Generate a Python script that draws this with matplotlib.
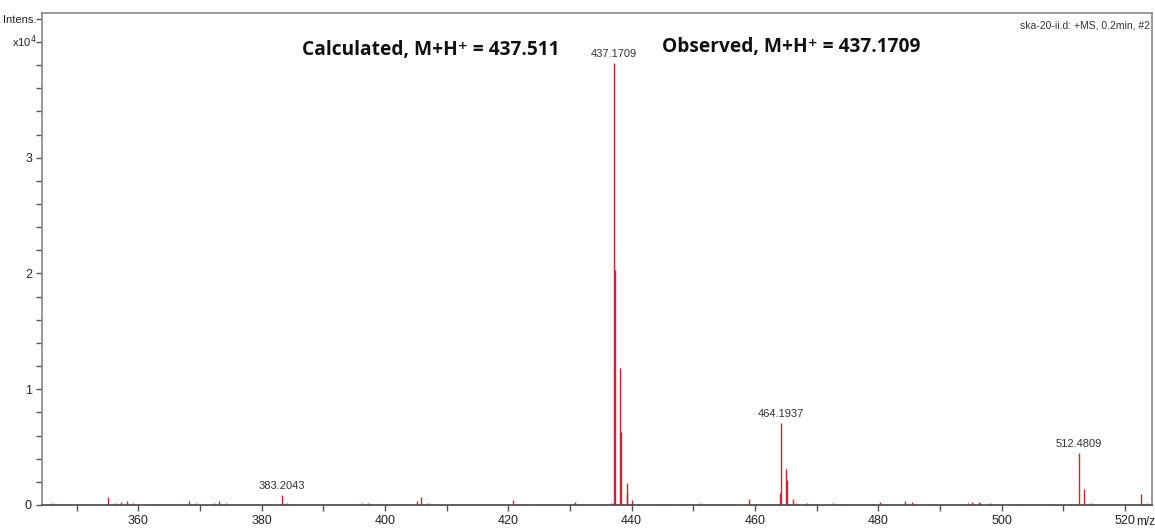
import matplotlib
matplotlib.use("Agg")
import matplotlib.pyplot as plt
from matplotlib.ticker import MultipleLocator

# m/z values and intensities (x10^4)
mz = [345.9, 355.0, 356.2, 357.1, 358.2, 359.1, 363.0, 368.2, 369.3, 372.2, 373.1, 374.2,
      381.0, 383.2043, 384.1, 396.2, 397.2, 400.1,
      405.1, 405.8, 407.0, 410.9, 420.8, 421.9, 424.8, 426.7, 428.1, 430.8, 431.8,
      435.9, 436.7, 437.1709, 437.3, 438.17, 438.25, 439.17, 439.3, 440.1, 441.2,
      444.0, 445.2, 449.0, 451.1, 452.1, 453.2, 455.1, 456.4, 459.0, 460.1, 461.8, 463.2,
      464.0, 464.1937, 465.1, 465.25, 466.1, 466.6,
      468.5, 469.3, 470.1, 472.7, 473.3, 479.2, 480.3, 481.2, 484.3, 485.4, 489.0, 490.3,
      493.2, 494.5, 495.2, 496.3, 496.5, 498.2, 502.3, 503.2, 508.4, 511.2,
      512.4809, 513.4, 514.5, 522.6, 523.6]
intensity = [0.015, 0.072, 0.015, 0.023, 0.035, 0.015, 0.01, 0.035, 0.02, 0.02, 0.037, 0.015,
             0.01, 0.086, 0.02, 0.015, 0.02, 0.01,
             0.035, 0.066, 0.015, 0.01, 0.043, 0.01, 0.01, 0.01, 0.01, 0.026, 0.01,
             0.01, 0.02, 3.82, 2.03, 1.18, 0.63, 0.19, 0.10, 0.043, 0.01,
             0.01, 0.01, 0.01, 0.015, 0.01, 0.01, 0.01, 0.01, 0.049, 0.01, 0.01, 0.01,
             0.10, 0.71, 0.31, 0.22, 0.05, 0.02,
             0.015, 0.01, 0.01, 0.02, 0.01, 0.01, 0.025, 0.01, 0.035, 0.03, 0.01, 0.01,
             0.01, 0.015, 0.03, 0.025, 0.02, 0.015, 0.01, 0.01, 0.01, 0.01,
             0.45, 0.14, 0.02, 0.095, 0.02]

peak_labels = ["383.2043", "437.1709", "464.1937", "512.4809"]
peak_label_mz = [383.2043, 437.1709, 464.1937, 512.4809]
peak_label_int = [0.086, 3.82, 0.71, 0.45]

xtick_values = [360, 380, 400, 420, 440, 460, 480, 500, 520]
ytick_values = [0, 1, 2, 3]

calc_text = "Calculated, M+H\u207a = 437.511"
obs_text = "Observed, M+H\u207a = 437.1709"
info_text = "ska-20-ii.d: +MS, 0.2min, #2"

narrow = ["Liberation Sans", "DejaVu Sans"]
bold_font = ["Open Sans", "DejaVu Sans"]

fig = plt.figure(figsize=(11.55, 5.32), dpi=100)
ax = fig.add_axes([0.0361, 0.0508, 0.9613, 0.9248])

ax.vlines(mz, 0, intensity, color="#d42030", linewidth=1.0)

ax.set_xlim(344.3, 524.4)
ax.set_ylim(0, 4.25)

ax.xaxis.set_minor_locator(MultipleLocator(10))
ax.yaxis.set_minor_locator(MultipleLocator(0.2))

ax.set_xticks(xtick_values)
ax.set_xticklabels([str(v) for v in xtick_values], fontfamily=narrow, fontsize=9, color="#222222")
ax.set_yticks(ytick_values)
ax.set_yticklabels([str(v) for v in ytick_values], fontfamily=narrow, fontsize=9, color="#222222")

ax.tick_params(axis="both", which="both", direction="out", length=4, width=1, color="#555555")
ax.tick_params(axis="x", pad=3)
ax.tick_params(axis="y", pad=3)

for s in ["top", "right", "left"]:
    ax.spines[s].set_color("#888888")
    ax.spines[s].set_linewidth(1.2)
ax.spines["bottom"].set_color("#444444")
ax.spines["bottom"].set_linewidth(1.2)

# y label at top-left
fig.text(0.0318, 1 - 20 / 532, "Intens.", ha="right", va="center", fontfamily=narrow, fontsize=8, color="#222222")
fig.text(0.0318, 1 - 42 / 532, "x10$^4$", ha="right", va="center", fontfamily=narrow, fontsize=8, color="#222222")

# m/z label
fig.text(1136 / 1155, 1 - 522 / 532, "m/z", ha="left", va="center",
         fontfamily=narrow, fontsize=8.5, color="#222222")

# peak labels
for lab, x, y in zip(peak_labels, peak_label_mz, peak_label_int):
    ax.annotate(lab, (x, y), xytext=(0, 3), textcoords="offset points", ha="center", va="bottom",
                fontfamily=narrow, fontsize=8, color="#333333")

ax.text(0.998, 0.985, info_text, transform=ax.transAxes, ha="right", va="top",
        fontfamily=narrow, fontsize=7.5, color="#333333")

fig.text(430.5 / 1155, 1 - 50 / 532, calc_text, ha="center", va="center",
         fontfamily=bold_font, fontweight="bold", fontsize=13.8, color="#111111")
fig.text(791 / 1155, 1 - 47 / 532, obs_text, ha="center", va="center",
         fontfamily=bold_font, fontweight="bold", fontsize=13.8, color="#111111")

fig.savefig("out.png", dpi=100, facecolor="white")
